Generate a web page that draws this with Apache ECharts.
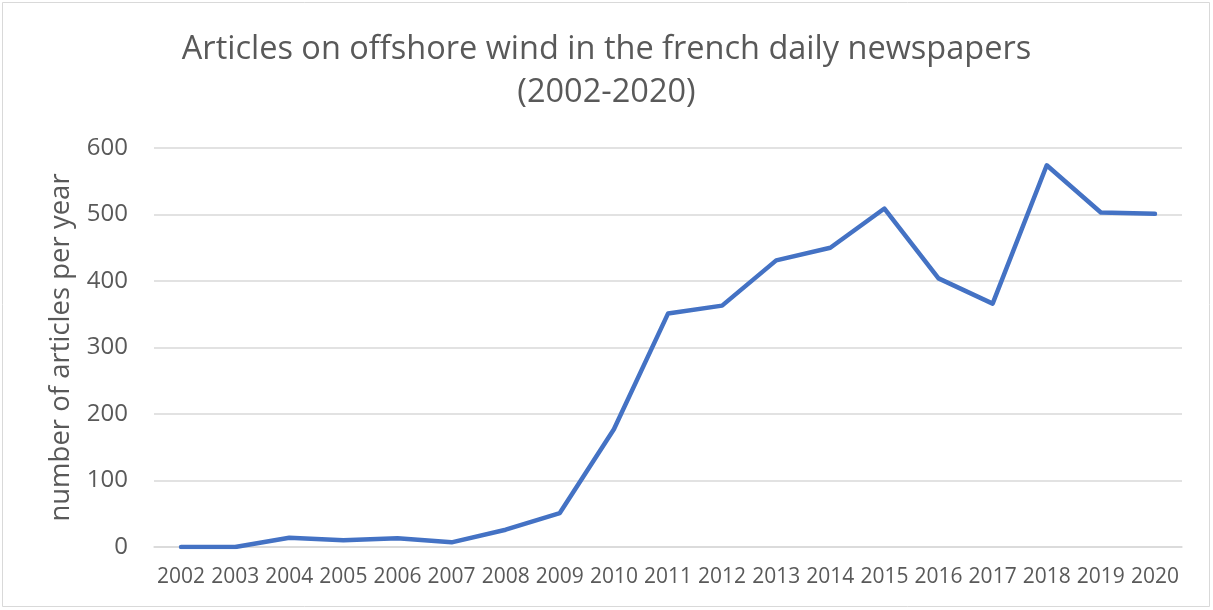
<!DOCTYPE html>
<html><head><meta charset="utf-8">
<script src="https://cdn.jsdelivr.net/npm/echarts@6/dist/echarts.min.js"></script>
<style>html,body{margin:0;padding:0;background:#fff}#c{width:1213px;height:610px}</style>
</head><body><div id="c"></div>
<script>
const years = ['2002','2003','2004','2005','2006','2007','2008','2009','2010','2011','2012','2013','2014','2015','2016','2017','2018','2019','2020'];
const articles = [0, 0, 14, 10, 13, 7, 26, 51, 177, 351, 363, 431, 450, 509, 404, 366, 574, 503, 501];
const yTicks = [0, 100, 200, 300, 400, 500, 600];
const titleText = 'Articles on offshore wind in the french daily newspapers\n(2002-2020)';
const yName = 'number of articles per year';

const chart = echarts.init(document.getElementById('c'), null, {renderer: 'canvas'});
const font = 'Open Sans';
chart.setOption({
  backgroundColor: '#fff',
  animation: false,
  graphic: [{type: 'rect', shape: {x: 2.5, y: 2.5, width: 1207, height: 604}, style: {fill: 'none', stroke: '#d9d9d9', lineWidth: 1}, silent: true}],
  title: {
    text: titleText, left: 'center', top: 23,
    textStyle: {fontFamily: font, fontSize: 32.5, fontWeight: 'normal', color: '#595959', lineHeight: 43}
  },
  grid: {left: 154, right: 31, top: 148, bottom: 63, containLabel: false},
  xAxis: {
    type: 'category', data: years, boundaryGap: true,
    axisLine: {show: true, lineStyle: {color: '#d9d9d9', width: 1.5}},
    axisTick: {show: false},
    axisLabel: {fontFamily: font, fontSize: 21, color: '#595959', margin: 20, interval: 0}
  },
  yAxis: {
    type: 'value', min: yTicks[0], max: yTicks[yTicks.length - 1], interval: 100,
    name: yName, nameLocation: 'middle', nameGap: 79,
    nameTextStyle: {fontFamily: font, fontSize: 27.5, color: '#595959'},
    axisLine: {show: false}, axisTick: {show: false},
    axisLabel: {fontFamily: font, fontSize: 24, color: '#595959', margin: 26},
    splitLine: {lineStyle: {color: '#d9d9d9', width: 1.5}}
  },
  series: [{
    type: 'line', data: articles, symbol: 'none',
    lineStyle: {color: '#4472C4', width: 4.5, cap: 'round', join: 'round'}
  }]
});
</script></body></html>
